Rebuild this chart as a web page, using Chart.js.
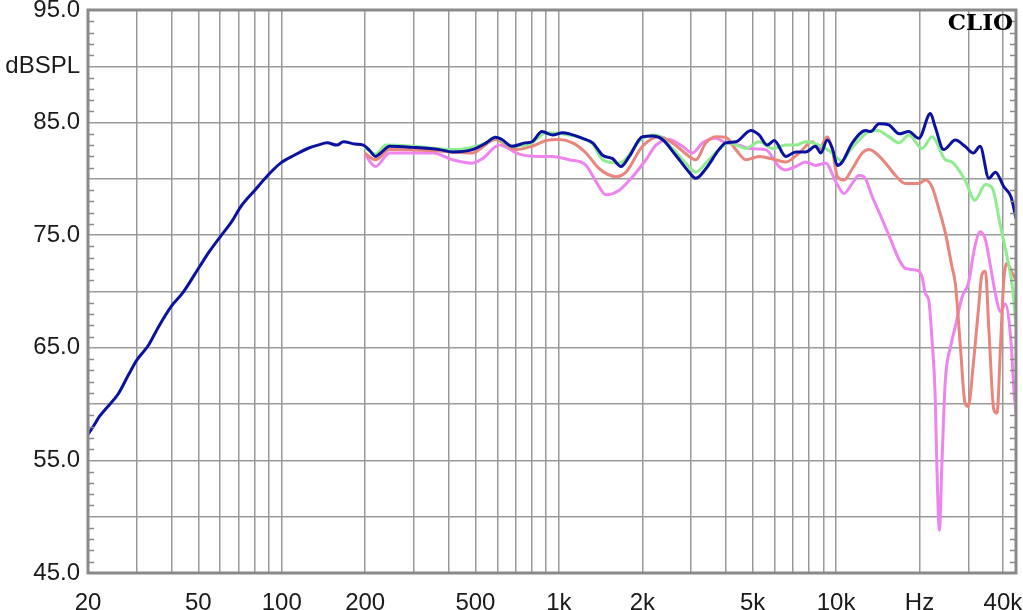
<!DOCTYPE html>
<html>
<head>
<meta charset="utf-8">
<script src="https://cdn.jsdelivr.net/npm/chart.js@4.4.0/dist/chart.umd.min.js"></script>
<style>
  html, body { margin: 0; padding: 0; background: #fff; }
  #wrap { width: 1023px; height: 610px; }
</style>
</head>
<body>
<div id="wrap"><canvas id="chart" width="1023" height="610"></canvas></div>
<script>
// Frequency response curves (Hz / dBSPL)

const blueHz = [
  20, 21, 22, 24, 25.7, 28, 30, 33, 36, 40,
  44, 50.5, 55, 60.6, 66, 71, 80, 89, 99, 111,
  124, 135, 146, 158, 167, 183, 197, 208, 218, 230,
  245, 297, 371, 413, 487, 547, 590, 623, 677, 756,
  800, 869, 950, 1032, 1090, 1218, 1324, 1438, 1563, 1675,
  1795, 2003, 2178, 2366, 2640, 2950, 3120, 3390, 3780, 4000,
  4350, 4930, 5275, 5650, 5980, 6590, 7160, 7770, 8440, 8810,
  9300, 9700, 10110, 10530, 11450, 12800, 13330, 14300, 15500, 16900,
  18300, 19900, 21900, 22800, 24450, 26950, 29200, 31300, 33100, 35600,
  37600, 40300, 42800, 44600
];
const blueDb = [
  57.3, 58.1, 58.9, 60.0, 60.9, 62.6, 63.9, 65.2, 66.9, 68.7,
  69.9, 72.2, 73.6, 75.0, 76.2, 77.5, 79.0, 80.3, 81.4, 82.1,
  82.7, 83.0, 83.2, 83.0, 83.3, 83.1, 83.0, 82.5, 82.0, 82.4,
  82.9, 82.8, 82.6, 82.4, 82.6, 83.2, 83.7, 83.5, 82.9, 83.2,
  83.3, 84.2, 83.9, 84.1, 84.0, 83.6, 83.2, 82.1, 81.8, 81.1,
  82.0, 83.75, 83.8, 83.5, 82.1, 80.6, 80.05, 80.9, 82.6, 83.2,
  83.3, 84.3, 83.9, 83.0, 83.4, 82.0, 82.4, 82.4, 82.9, 82.3,
  83.45, 82.7, 81.2, 81.5, 83.2, 84.3, 84.2, 84.9, 84.8, 84.0,
  84.2, 83.6, 85.8, 84.6, 82.6, 83.45, 82.9, 82.3, 82.9, 80.05,
  80.6, 79.3, 78.4, 76.5
];

const greenHz = [
  199, 218, 238, 297, 413, 547, 590, 677, 800, 900,
  1032, 1218, 1324, 1438, 1652, 2003, 2240, 2570, 2870, 3120,
  3390, 3780, 4120, 4730, 5275, 5900, 6590, 7160, 7770, 8670,
  9700, 10500, 11140, 12100, 13150, 14100, 15500, 16900, 18300, 20450,
  22200, 24800, 26200, 29200, 31700, 34600, 36600, 39200, 41400, 43300,
  44600
];
const greenDb = [
  82.8, 82.2, 83.0, 82.9, 82.6, 83.2, 83.7, 82.9, 83.2, 84.1,
  84.0, 83.6, 83.1, 81.7, 81.4, 83.6, 83.9, 82.7, 81.4, 80.6,
  81.4, 82.6, 83.2, 82.7, 83.3, 82.7, 83.0, 83.0, 83.3, 83.0,
  82.3, 81.6, 82.4, 83.45, 84.2, 84.3, 83.75, 83.2, 83.9, 82.7,
  83.75, 81.7, 81.5, 79.9, 78.1, 79.5, 79.2, 75.8, 73.1, 70.4,
  66.9
];

const salmonHz = [
  199, 218, 245, 352, 402, 487, 590, 702, 800, 900,
  1004, 1121, 1253, 1400, 1608, 1746, 2003, 2300, 2570, 2950,
  3120, 3390, 3680, 4000, 4350, 4730, 5275, 6060, 6590, 7360,
  8210, 8670, 9300, 9700, 10110, 10680, 11450, 12430, 13150, 13900,
  15100, 16400, 17800, 19900, 21000, 22200, 23400, 24800, 26200, 26950,
  28100, 29200, 30000, 31300, 32700, 33600, 34600, 35600, 37100, 38100,
  39200, 40300, 41400, 43300, 44700
];
const salmonDb = [
  82.3, 81.7, 82.6, 82.5, 82.4, 82.3, 83.5, 82.6, 82.9, 83.4,
  83.5, 83.2, 82.3, 80.9, 80.2, 80.6, 82.9, 83.75, 83.2, 82.0,
  81.7, 83.2, 83.75, 83.7, 82.6, 81.7, 82.0, 81.7, 81.5, 82.3,
  83.3, 82.6, 83.75, 82.6, 80.2, 79.9, 80.9, 82.3, 82.6, 82.3,
  81.4, 80.3, 79.6, 79.6, 79.9, 79.3, 77.5, 75.2, 72.2, 70.7,
  65.1, 60.1, 59.8, 63.6, 68.6, 71.5, 71.8, 66.6, 59.5, 59.2,
  65.1, 71.0, 72.5, 71.6, 71.0
];

const violetHz = [
  199, 218, 245, 352, 413, 487, 530, 610, 719, 850,
  945, 1090, 1253, 1362, 1479, 1652, 1845, 2062, 2240, 2500,
  2790, 3030, 3300, 3680, 4000, 4470, 4860, 5570, 6230, 6590,
  7160, 7770, 8440, 9180, 9980, 10680, 11450, 12100, 12620, 13520,
  14700, 15750, 16900, 17800, 19400, 20450, 21000, 21600, 22200, 22800,
  23100, 23600, 24100, 24800, 25900, 26950, 28500, 30000, 31700, 33100,
  34600, 36100, 37600, 39200, 40800, 42800, 43900, 44700
];
const violetDb = [
  82.2, 81.1, 82.3, 82.3, 81.7, 81.4, 81.8, 83.0, 82.2, 82.0,
  82.0, 81.7, 81.2, 79.75, 78.6, 79.0, 80.2, 81.7, 83.0, 83.5,
  82.9, 82.3, 83.2, 83.6, 83.2, 83.0, 82.7, 82.6, 81.1, 80.8,
  81.1, 81.5, 81.2, 81.4, 79.75, 78.7, 79.6, 80.3, 80.2, 78.4,
  76.35, 74.6, 72.8, 72.05, 71.9, 71.3, 69.8, 69.25, 65.7, 60.7,
  54.7, 48.8, 54.7, 62.1, 65.1, 66.9, 69.5, 70.7, 74.0, 75.3,
  74.6, 72.2, 69.8, 68.2, 68.9, 65.5, 61.0, 59.0
];

// axes
const xGridHz = [
  20, 30, 40, 50, 60, 70, 80, 90,
  100, 200, 300, 400, 500, 600, 700, 800, 900,
  1000, 2000, 3000, 4000, 5000, 6000, 7000, 8000, 9000,
  10000, 20000, 30000, 40000
];
const xLabelHz = [20, 50, 100, 200, 500, 1000, 2000, 5000, 10000, 20000, 40000];
const xLabelText = ['20', '50', '100', '200', '500', '1k', '2k', '5k', '10k', 'Hz', '40k'];
const yLabelDb = [95, 90, 85, 75, 65, 55, 45];
const yLabelText = ['95.0', 'dBSPL', '85.0', '75.0', '65.0', '55.0', '45.0'];

function pts(hz, db) {
  return hz.map((f, i) => ({ x: f, y: db[i] }));
}

function line(label, hz, db, color) {
  return {
    label: label,
    data: pts(hz, db),
    borderColor: color,
    borderWidth: 3,
    pointRadius: 0,
    cubicInterpolationMode: 'monotone',
    fill: false
  };
}

const GRID = '#9a9a9a';
const FRAME = '#8a8a8a';

// frame, minor dB ticks on both sides, CLIO mark
const framePlugin = {
  id: 'frame',
  afterDraw(chart) {
    const { ctx, chartArea: a, scales } = chart;
    ctx.save();
    ctx.strokeStyle = FRAME;
    ctx.lineWidth = 1.5;
    for (let v = 46; v < 95; v++) {
      if (v % 5 === 0) continue;
      const y = Math.round(scales.y.getPixelForValue(v)) + 0.5;
      ctx.beginPath();
      ctx.moveTo(a.left, y); ctx.lineTo(a.left + 6, y);
      ctx.moveTo(a.right - 6, y); ctx.lineTo(a.right, y);
      ctx.stroke();
    }
    ctx.lineWidth = 3;
    ctx.strokeRect(a.left, a.top, a.right - a.left, a.bottom - a.top);
    ctx.fillStyle = '#000';
    ctx.font = 'bold 23px "DejaVu Serif", "Liberation Serif", serif';
    ctx.textAlign = 'right';
    ctx.textBaseline = 'alphabetic';
    ctx.fillText('CLIO', 1013, 30);
    ctx.restore();
  }
};

function noPad(scale) {
  scale.paddingTop = 0;
  scale.paddingBottom = 0;
  scale.paddingLeft = 0;
  scale.paddingRight = 0;
}

const tickFont = { family: '"Liberation Sans", Arial, sans-serif', size: 24 };

new Chart(document.getElementById('chart').getContext('2d'), {
  type: 'line',
  data: {
    datasets: [
      line('blue', blueHz, blueDb, '#0b12a0'),
      line('green', greenHz, greenDb, '#8fec8f'),
      line('salmon', salmonHz, salmonDb, '#e8857c'),
      line('violet', violetHz, violetDb, '#ee84ee')
    ]
  },
  options: {
    responsive: false,
    animation: false,
    devicePixelRatio: 1,
    layout: { padding: { top: 10, right: 7, left: 0, bottom: 0 } },
    plugins: { legend: { display: false }, tooltip: { enabled: false } },
    scales: {
      x: {
        type: 'logarithmic',
        min: 20,
        max: 44600,
        bounds: 'data',
        afterBuildTicks: (scale) => { scale.ticks = xGridHz.map(v => ({ value: v })); },
        afterFit: (scale) => { scale.height = 37; noPad(scale); },
        grid: { color: GRID, lineWidth: 1.5, drawTicks: false },
        border: { display: false },
        ticks: {
          autoSkip: false,
          maxRotation: 0,
          padding: 16,
          color: '#1a1a1a',
          font: tickFont,
          callback: (v) => {
            const i = xLabelHz.indexOf(v);
            return i >= 0 ? xLabelText[i] : '';
          }
        }
      },
      y: {
        min: 45,
        max: 95,
        afterFit: (scale) => { scale.width = 88; noPad(scale); },
        grid: { color: GRID, lineWidth: 1.5, drawTicks: false },
        border: { display: false },
        ticks: {
          stepSize: 5,
          autoSkip: false,
          padding: 8,
          color: '#1a1a1a',
          font: tickFont,
          callback: (v) => {
            const i = yLabelDb.indexOf(v);
            return i >= 0 ? yLabelText[i] : '';
          }
        }
      }
    }
  },
  plugins: [framePlugin]
});
</script>
</body>
</html>
